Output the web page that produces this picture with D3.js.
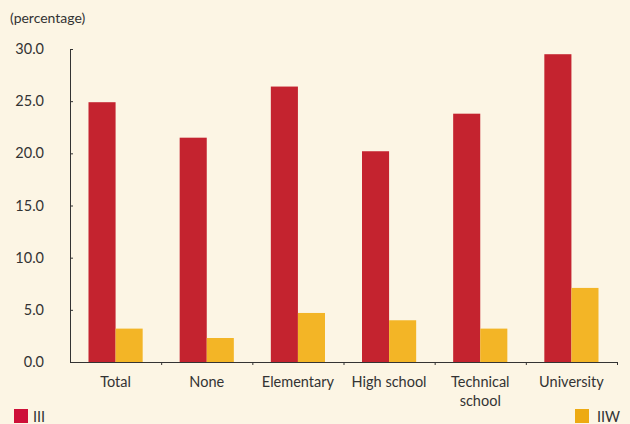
<!DOCTYPE html>
<html><head><meta charset="utf-8">
<script src="https://cdn.jsdelivr.net/npm/d3@7"></script>
<style>html,body{margin:0;padding:0;background:#FCF5E4;}svg{display:block;}</style>
</head><body>
<script>
const categories = [["Total"],["None"],["Elementary"],["High school"],["Technical","school"],["University"]];
const seriesNames = ["III","IIW"];
const valuesIII = [24.9, 21.5, 26.4, 20.2, 23.8, 29.5];
const valuesIIW = [3.2, 2.3, 4.7, 4.0, 3.2, 7.1];
const yTicks = [0,5,10,15,20,25,30];

const W=630,H=424;
const colors = ["#C4232F","#F3B526"];
const legendColors = ["#CE1039","#EDAA12"];
const font = "Lato, 'Open Sans', sans-serif";
const svg = d3.select("body").append("svg").attr("width",W).attr("height",H)
  .style("background","#FCF5E4");

const x = d3.scaleBand().domain(d3.range(categories.length)).range([70,617]).paddingInner(0).paddingOuter(0);
const y = d3.scaleLinear().domain([0,30]).range([362,49]);
const inner = d3.scaleBand().domain([0,1]).range([18.5, x.bandwidth()-18.5]);

const series=[valuesIII, valuesIIW];
series.forEach((vals,si)=>{
  svg.append("g").selectAll("rect").data(vals).join("rect")
    .attr("x",(d,i)=>x(i)+inner(si)).attr("width",inner.bandwidth())
    .attr("y",d=>y(d)).attr("height",d=>y(0)-y(d)).attr("fill",colors[si]);
});

// y axis
const ya = svg.append("g").attr("transform","translate(70,0)")
  .call(d3.axisRight(y).tickValues(yTicks).tickSize(3).tickFormat(""));
ya.select(".domain").attr("stroke","#333").attr("d","M3,49.5H0.5V362.5");
ya.selectAll(".tick line").attr("stroke","#333");
svg.append("g").selectAll("text").data(yTicks).join("text")
  .attr("x",44).attr("y",d=>y(d)+5).attr("text-anchor","end")
  .attr("font-family",font).attr("font-size",14.5).attr("fill","#333")
  .text(d=>d.toFixed(1));

// x axis
const xa = svg.append("g").attr("transform","translate(0,362)");
xa.append("line").attr("x1",70).attr("x2",617).attr("y1",0.5).attr("y2",0.5).attr("stroke","#333");
xa.selectAll("line.t").data(d3.range(categories.length)).join("line").attr("class","t")
  .attr("x1",i=>x(i)+x.bandwidth()+0.5).attr("x2",i=>x(i)+x.bandwidth()+0.5)
  .attr("y1",0).attr("y2",3).attr("stroke","#333");
const lbl = svg.append("g").selectAll("text").data(categories).join("text")
  .attr("text-anchor","middle").attr("font-family",font).attr("font-size",14.5).attr("fill","#333");
lbl.each(function(lines,i){
  const t=d3.select(this);
  lines.forEach((l,k)=>t.append("tspan").attr("x",x(i)+x.bandwidth()/2).attr("y",387+k*19).text(l));
});

svg.append("text").attr("x",10).attr("y",23).attr("font-family",font).attr("font-size",14)
  .attr("fill","#333").text("(percentage)");

// legend
svg.append("rect").attr("x",14).attr("y",409).attr("width",14).attr("height",14).attr("fill",legendColors[0]);
svg.append("text").attr("x",33).attr("y",422).attr("font-family",font).attr("font-size",14.5).attr("fill","#333").text(seriesNames[0]);
svg.append("rect").attr("x",575).attr("y",409).attr("width",14).attr("height",14).attr("fill",legendColors[1]);
svg.append("text").attr("x",597).attr("y",422).attr("font-family",font).attr("font-size",14.5).attr("fill","#333").text(seriesNames[1]);
</script>
</body></html>
